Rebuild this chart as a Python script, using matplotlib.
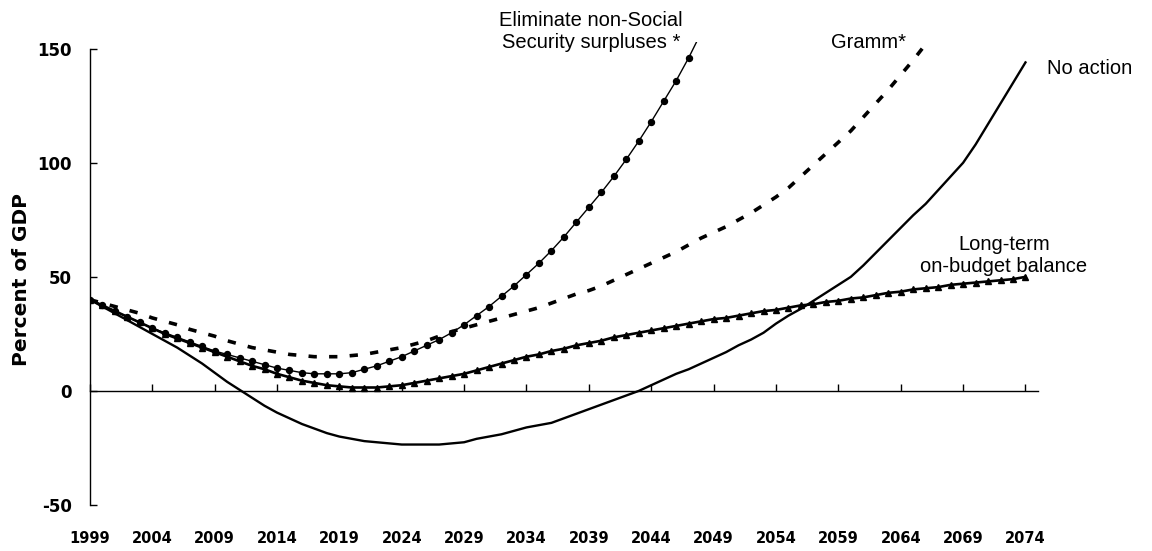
#!/usr/bin/env python3
"""
Script para graficar la deuda en manos del público bajo distintos escenarios
"""

import matplotlib
matplotlib.use('Agg')
import matplotlib.pyplot as plt

# Años de la proyección (datos anuales)
anios = list(range(1999, 2075))

# Escenario "No action" (1999-2074)
sin_accion = [40, 37, 34, 31, 28, 25, 22, 19, 15.5, 12,
              8, 4, 0.5, -3, -6.5, -9.5, -12, -14.5, -16.5, -18.5,
              -20, -21, -22, -22.5, -23, -23.5, -23.5, -23.5, -23.5, -23,
              -22.5, -21, -20, -19, -17.5, -16, -15, -14, -12, -10,
              -8, -6, -4, -2, 0, 2.5, 5, 7.5, 9.5, 12,
              14.5, 17, 20, 22.5, 25.5, 29.5, 33, 36, 39.5, 43,
              46.5, 50, 55, 60.5, 66, 71.5, 77, 82, 88, 94,
              100, 108, 117, 126, 135, 144]

# Escenario "Eliminate non-Social Security surpluses" (1999-2048)
eliminar_superavit = [40, 37.5, 35, 32.5, 30, 27.5, 25.5, 23.5, 21.5, 19.5,
                      17.5, 16, 14.5, 13, 11.5, 10, 9, 8, 7.5, 7.5,
                      7.5, 8, 9.5, 11, 13, 15, 17.5, 20, 22.5, 25.5,
                      29, 33, 37, 41.5, 46, 51, 56, 61.5, 67.5, 74,
                      80.5, 87, 94, 101.5, 109.5, 118, 127, 136, 146, 157]

# Escenario "Gramm" (1999-2067)
gramm = [40, 38.5, 37, 35.5, 34, 32, 30.5, 29, 27, 25.5,
         24, 22, 20.5, 19, 18, 17, 16, 15.5, 15, 15,
         15, 15.5, 16, 17, 18, 19, 20.5, 22, 24, 26,
         27.5, 29, 30.5, 32, 33.5, 35, 36.5, 38.5, 40.5, 42.5,
         44, 46, 48.5, 51, 53.5, 56, 58.5, 61, 64, 67,
         69.5, 72, 75, 78, 81.5, 85, 89, 94, 99, 104,
         109, 114, 120, 126, 132, 138.5, 145, 152, 159]

# Escenario "Long-term on-budget balance" (1999-2074)
balance_largo_plazo = [40, 37.5, 35, 32.5, 30, 27.5, 25, 23, 21, 19,
                       17, 15, 13, 11, 9.5, 7.5, 6, 4.5, 3.5, 2.5,
                       2, 1.5, 1.5, 1.5, 2, 2.5, 3.5, 4.5, 5.5, 6.5,
                       7.5, 9, 10.5, 12, 13.5, 15, 16, 17.5, 18.5, 20,
                       21, 22, 23.5, 24.5, 25.5, 26.5, 27.5, 28.5, 29.5, 30.5,
                       31.5, 32, 33, 34, 35, 35.5, 36.5, 37.5, 38, 39,
                       39.5, 40.5, 41, 42, 43, 43.5, 44.5, 45, 45.5, 46.5,
                       47, 47.5, 48, 48.5, 49, 50]

# Marcas de los ejes
ticks_x = list(range(1999, 2075, 5))
etiquetas_x = [str(a) for a in ticks_x]
ticks_y = [-50, 0, 50, 100, 150]


def graficar():
    """Dibuja los cuatro escenarios"""
    fig = plt.figure(figsize=(11.52, 5.51), dpi=100)
    ax = fig.add_axes([0.078, 0.0835, 0.823, 0.8405])

    # Curvas
    ax.plot(anios[:len(sin_accion)], sin_accion, color='black', linewidth=1.7)
    ax.plot(anios[:len(eliminar_superavit)], eliminar_superavit, color='black',
            linewidth=1.0, marker='o', markersize=4.3)
    ax.plot(anios[:len(gramm)], gramm, color='black', linewidth=2.6,
            dashes=(2.3, 3.4))
    ax.plot(anios[:len(balance_largo_plazo)], balance_largo_plazo, color='black',
            linewidth=1.9, marker='^', markersize=4.5)

    ax.set_xlim(1999, 2075)
    ax.set_ylim(-50, 153)

    # Ejes: el eje x cruza en cero
    ax.spines['top'].set_visible(False)
    ax.spines['right'].set_visible(False)
    ax.spines['bottom'].set_position(('data', 0))
    ax.spines['bottom'].set_linewidth(1.0)
    ax.spines['left'].set_bounds(-50, 150)
    ax.spines['left'].set_linewidth(1.0)

    ax.set_xticks(ticks_x)
    ax.tick_params(axis='x', direction='in', length=5, width=1,
                   labelbottom=False)
    ax.set_yticks(ticks_y)
    ax.set_yticklabels([str(v) for v in ticks_y], fontsize=12,
                       fontweight='bold')
    ax.tick_params(axis='y', direction='in', length=5, width=1, pad=13)

    # Etiquetas de años bajo el gráfico
    eje_abajo = ax.secondary_xaxis(0.0)
    eje_abajo.set_xticks(ticks_x)
    eje_abajo.set_xticklabels(etiquetas_x, fontsize=10.5, fontweight='bold')
    eje_abajo.tick_params(length=0, pad=19)
    eje_abajo.spines['bottom'].set_visible(False)

    fig.text(22 / 1152, 1 - 280 / 551, 'Percent of GDP', rotation=90,
             ha='center', va='center', fontsize=14.5, fontweight='bold')

    # Rótulos de cada escenario
    fuente = dict(fontsize=14.5, family='Liberation Sans', ha='center',
                  va='center', multialignment='center', linespacing=1.2)
    fig.text(591 / 1152, 1 - 32 / 551,
             'Eliminate non-Social\nSecurity surpluses *', **fuente)
    fig.text(868 / 1152, 1 - 42 / 551, 'Gramm*', **fuente)
    fig.text(1090 / 1152, 1 - 69 / 551, 'No action', **fuente)
    fig.text(1004 / 1152, 1 - 255 / 551,
             'Long-term\non-budget balance', **fuente)

    plt.savefig('out.png', dpi=100)
    print("Gráfico guardado como 'out.png'")


if __name__ == "__main__":
    graficar()
